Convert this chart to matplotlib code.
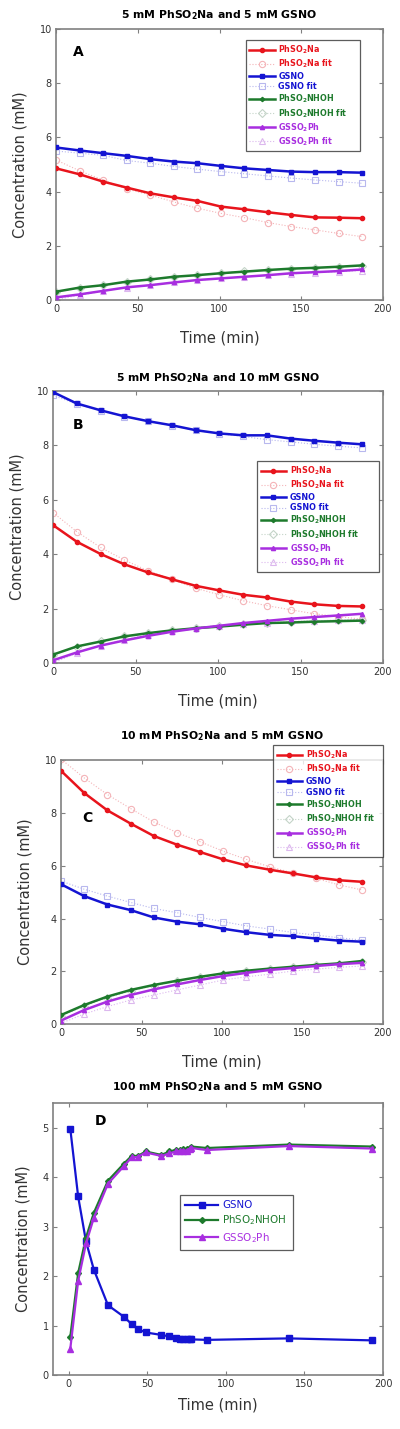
import matplotlib.pyplot as plt
import numpy as np

# time points for panels A-C (min)
t = [0, 14.4, 28.8, 43.2, 57.6, 72, 86.4, 100.8, 115.2, 129.6, 144, 158.4, 172.8, 187.2]

# Panel A: 5 mM PhSO2Na and 5 mM GSNO
a_na = [4.86, 4.64, 4.37, 4.15, 3.94, 3.79, 3.66, 3.45, 3.35, 3.24, 3.14, 3.05, 3.04, 3.02]
a_na_fit = [5.17, 4.77, 4.43, 4.10, 3.88, 3.62, 3.39, 3.20, 3.04, 2.86, 2.71, 2.59, 2.46, 2.34]
a_gsno = [5.63, 5.52, 5.42, 5.32, 5.20, 5.11, 5.05, 4.95, 4.86, 4.80, 4.74, 4.72, 4.72, 4.70]
a_gsno_fit = [5.50, 5.42, 5.34, 5.15, 5.05, 4.93, 4.83, 4.74, 4.66, 4.58, 4.50, 4.43, 4.37, 4.31]
a_nhoh = [0.31, 0.46, 0.55, 0.68, 0.76, 0.86, 0.92, 0.99, 1.05, 1.11, 1.16, 1.19, 1.23, 1.28]
a_nhoh_fit = [0.30, 0.45, 0.56, 0.67, 0.77, 0.86, 0.93, 1.00, 1.06, 1.11, 1.15, 1.19, 1.23, 1.26]
a_gsso = [0.10, 0.21, 0.34, 0.47, 0.55, 0.65, 0.74, 0.80, 0.86, 0.92, 0.99, 1.03, 1.07, 1.13]
a_gsso_fit = [0.02, 0.18, 0.33, 0.46, 0.56, 0.65, 0.73, 0.80, 0.86, 0.92, 0.97, 1.01, 1.05, 1.09]

# Panel B: 5 mM PhSO2Na and 10 mM GSNO
b_na = [5.07, 4.46, 4.01, 3.63, 3.33, 3.08, 2.84, 2.67, 2.51, 2.41, 2.26, 2.16, 2.10, 2.08]
b_na_fit = [5.53, 4.83, 4.25, 3.79, 3.39, 3.08, 2.75, 2.51, 2.29, 2.11, 1.96, 1.81, 1.71, 1.61]
b_gsno = [9.96, 9.54, 9.29, 9.07, 8.89, 8.74, 8.56, 8.44, 8.37, 8.37, 8.25, 8.17, 8.10, 8.04]
b_gsno_fit = [9.84, 9.52, 9.28, 9.06, 8.88, 8.73, 8.55, 8.43, 8.33, 8.21, 8.13, 8.04, 7.97, 7.91]
b_nhoh = [0.31, 0.61, 0.79, 0.98, 1.10, 1.20, 1.28, 1.34, 1.41, 1.47, 1.49, 1.52, 1.54, 1.56]
b_nhoh_fit = [0.30, 0.60, 0.80, 0.98, 1.10, 1.20, 1.29, 1.36, 1.42, 1.47, 1.51, 1.55, 1.58, 1.60]
b_gsso = [0.10, 0.39, 0.64, 0.83, 1.00, 1.15, 1.27, 1.37, 1.47, 1.55, 1.63, 1.69, 1.75, 1.81]
b_gsso_fit = [0.00, 0.37, 0.64, 0.86, 1.04, 1.19, 1.30, 1.38, 1.44, 1.49, 1.53, 1.55, 1.58, 1.59]

# Panel C: 10 mM PhSO2Na and 5 mM GSNO
c_na = [9.60, 8.76, 8.10, 7.60, 7.13, 6.80, 6.52, 6.24, 6.01, 5.85, 5.71, 5.56, 5.45, 5.39]
c_na_fit = [10.04, 9.33, 8.70, 8.17, 7.66, 7.26, 6.91, 6.55, 6.24, 5.96, 5.73, 5.52, 5.27, 5.08]
c_gsno = [5.30, 4.85, 4.53, 4.32, 4.04, 3.88, 3.78, 3.61, 3.48, 3.38, 3.33, 3.24, 3.16, 3.12]
c_gsno_fit = [5.42, 5.11, 4.85, 4.61, 4.38, 4.22, 4.04, 3.88, 3.72, 3.60, 3.47, 3.37, 3.27, 3.18]
c_nhoh = [0.34, 0.72, 1.04, 1.29, 1.48, 1.64, 1.79, 1.92, 2.02, 2.10, 2.17, 2.24, 2.30, 2.39]
c_nhoh_fit = [0.30, 0.68, 1.00, 1.25, 1.46, 1.63, 1.78, 1.90, 2.00, 2.09, 2.17, 2.23, 2.29, 2.35]
c_gsso = [0.13, 0.53, 0.85, 1.10, 1.31, 1.50, 1.67, 1.82, 1.94, 2.05, 2.12, 2.20, 2.27, 2.32]
c_gsso_fit = [0.03, 0.38, 0.66, 0.91, 1.10, 1.29, 1.48, 1.67, 1.79, 1.89, 2.01, 2.08, 2.15, 2.20]

# Panel D: 100 mM PhSO2Na and 5 mM GSNO
t_d = [1, 6, 11, 16, 25, 35, 40, 44, 49, 59, 64, 68, 71, 73, 75, 77, 78, 88, 140, 193]
d_gsno = [4.98, 3.61, 2.70, 2.13, 1.41, 1.18, 1.03, 0.93, 0.86, 0.81, 0.78, 0.74, 0.73, 0.72,
          0.72, 0.72, 0.72, 0.71, 0.74, 0.70]
d_nhoh = [0.77, 2.06, 2.78, 3.28, 3.93, 4.27, 4.43, 4.43, 4.52, 4.45, 4.52, 4.55, 4.55, 4.57,
          4.57, 4.60, 4.62, 4.59, 4.66, 4.62]
d_gsso = [0.53, 1.90, 2.66, 3.18, 3.87, 4.22, 4.40, 4.41, 4.50, 4.43, 4.48, 4.52, 4.53, 4.54,
          4.54, 4.58, 4.59, 4.55, 4.63, 4.58]

RED, BLUE, GREEN, PURPLE = '#e8141c', '#1414d2', '#1d7a2c', '#a82ee0'
LRED, LBLUE, LGREEN, LPURPLE = '#f4b4b8', '#b8b8ee', '#c4d4c8', '#dcb8ee'
GRAY = '#808080'
TXT = '#333333'

fig = plt.figure(figsize=(4, 14.29), dpi=100)


def style_axes(ax, ylim, yticks):
    ax.set_xlim(0, 200)
    ax.set_ylim(*ylim)
    ax.set_xticks([0, 50, 100, 150, 200])
    ax.set_yticks(yticks)
    ax.tick_params(direction='in', top=True, right=True, length=3, width=0.8,
                   labelsize=7, colors=GRAY, labelcolor=TXT, pad=3)
    for s in ax.spines.values():
        s.set_color(GRAY)
        s.set_linewidth(1.2)
    ax.set_ylabel('Concentration (mM)', fontsize=10.5, color=TXT, labelpad=9)


def four_series(ax, main, fits):
    specs = [
        (r'PhSO$_\mathbf{2}$Na', RED, LRED, 'o', 3.0),
        ('GSNO', BLUE, LBLUE, 's', 3.4),
        (r'PhSO$_\mathbf{2}$NHOH', GREEN, LGREEN, 'D', 2.2),
        (r'GSSO$_\mathbf{2}$Ph', PURPLE, LPURPLE, '^', 3.0),
    ]
    handles = []
    for (lab, c, lc, m, ms), y, yf in zip(specs, main, fits):
        h1, = ax.plot(t, y, color=c, lw=1.8, marker=m, ms=ms, zorder=3, label=lab)
        h2, = ax.plot(t, yf, color=lc, lw=0.8, ls=':', marker=m, ms=ms + 1.5,
                      mfc='none', mec=lc, mew=0.8, zorder=2, label=lab + ' fit')
        handles += [h1, h2]
    return handles


def add_legend(ax, handles, bbox, colors):
    leg = ax.legend(handles=handles, loc='upper left', bbox_to_anchor=bbox,
                    mode='expand', fontsize=5.8, frameon=True, fancybox=False,
                    edgecolor='#333333', handlelength=3.2, handletextpad=0.4,
                    borderpad=0.45, labelspacing=0.2, borderaxespad=0)
    leg.get_frame().set_linewidth(0.9)
    for txt, c in zip(leg.get_texts(), colors):
        txt.set_color(c)
        txt.set_fontweight('bold')
    return leg


leg_colors = [RED, RED, BLUE, BLUE, GREEN, GREEN, PURPLE, PURPLE]

# ---- A ----
axA = fig.add_axes([0.14, 0.790, 0.8175, 0.1897])
hA = four_series(axA, [a_na, a_gsno, a_nhoh, a_gsso],
                 [a_na_fit, a_gsno_fit, a_nhoh_fit, a_gsso_fit])
style_axes(axA, (0, 10), [0, 2, 4, 6, 8, 10])
add_legend(axA, hA, (0.58, 0.528, 0.35, 0.432), leg_colors)
axA.set_title(r'5 mM PhSO$_\mathbf{2}$Na and 5 mM GSNO', fontsize=7.8,
              fontweight='bold', pad=8)
axA.text(0.052, 0.915, 'A', transform=axA.transAxes, fontsize=10,
         fontweight='bold', va='center')
axA.set_xlabel('Time (min)', fontsize=10.5, color=TXT, labelpad=12)

# ---- B ----
axB = fig.add_axes([0.1325, 0.536, 0.825, 0.1904])
hB = four_series(axB, [b_na, b_gsno, b_nhoh, b_gsso],
                 [b_na_fit, b_gsno_fit, b_nhoh_fit, b_gsso_fit])
style_axes(axB, (0, 10), [0, 2, 4, 6, 8, 10])
add_legend(axB, hB, (0.618, 0.309, 0.37, 0.434), leg_colors)
axB.set_title(r'5 mM PhSO$_\mathbf{2}$Na and 10 mM GSNO', fontsize=7.8,
              fontweight='bold', pad=7)
axB.text(0.06, 0.875, 'B', transform=axB.transAxes, fontsize=10,
         fontweight='bold', va='center')
axB.set_xlabel('Time (min)', fontsize=10.5, color=TXT, labelpad=12)

# ---- C ----
axC = fig.add_axes([0.1525, 0.2834, 0.805, 0.1846])
hC = four_series(axC, [c_na, c_gsno, c_nhoh, c_gsso],
                 [c_na_fit, c_gsno_fit, c_nhoh_fit, c_gsso_fit])
style_axes(axC, (0, 10), [0, 2, 4, 6, 8, 10])
legC = add_legend(axC, hC, (0.658, 0.617, 0.342, 0.44), leg_colors)
legC.set_zorder(5)
axC.set_title(r'10 mM PhSO$_\mathbf{2}$Na and 5 mM GSNO', fontsize=7.8,
              fontweight='bold', pad=15)
axC.text(0.065, 0.78, 'C', transform=axC.transAxes, fontsize=10,
         fontweight='bold', va='center')
axC.set_xlabel('Time (min)', fontsize=10.5, color=TXT, labelpad=12)

# ---- D ----
axD = fig.add_axes([0.1325, 0.0378, 0.825, 0.1903])
hD1, = axD.plot(t_d, d_gsno, color=BLUE, lw=1.6, marker='s', ms=4.5, label='GSNO')
hD2, = axD.plot(t_d, d_nhoh, color=GREEN, lw=1.6, marker='D', ms=3,
                label=r'PhSO$_2$NHOH')
hD3, = axD.plot(t_d, d_gsso, color=PURPLE, lw=1.6, marker='^', ms=4,
                label=r'GSSO$_2$Ph')
style_axes(axD, (0, 5.5), [0, 1, 2, 3, 4, 5])
axD.set_xlim(-10, 200)
legD = axD.legend(handles=[hD1, hD2, hD3], loc='upper left',
                  bbox_to_anchor=(0.385, 0.426, 0.342, 0.236), mode='expand',
                  fontsize=7.4, frameon=True, fancybox=False, edgecolor='#333333',
                  handlelength=3.2, handletextpad=0.4, borderpad=0.5,
                  labelspacing=0.35, borderaxespad=0)
legD.get_frame().set_linewidth(0.9)
for txt, c in zip(legD.get_texts(), [BLUE, GREEN, PURPLE]):
    txt.set_color(c)
axD.set_title(r'100 mM PhSO$_\mathbf{2}$Na and 5 mM GSNO', fontsize=7.8,
              fontweight='bold', pad=9)
axD.text(0.125, 0.934, 'D', transform=axD.transAxes, fontsize=10,
         fontweight='bold', va='center')
axD.set_xlabel('Time (min)', fontsize=10.5, color=TXT, labelpad=6)

fig.savefig('out.png', dpi=100)
